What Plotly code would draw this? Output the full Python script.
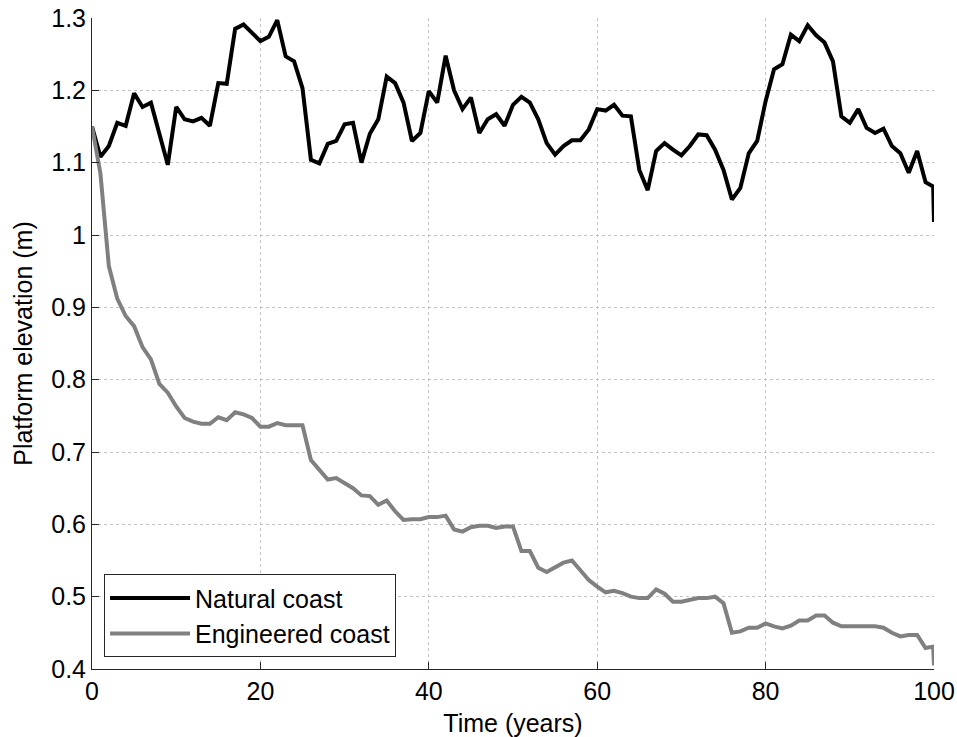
import plotly.graph_objects as go

# Simulated platform elevation over a century, sampled yearly
years = list(range(0, 100)) + [99.9, 100]

natural_coast = [
    1.150, 1.108, 1.123, 1.155, 1.151, 1.196, 1.177, 1.183, 1.140, 1.097,
    1.177, 1.160, 1.157, 1.162, 1.151, 1.210, 1.209, 1.285, 1.291, 1.279,
    1.268, 1.274, 1.297, 1.247, 1.240, 1.203, 1.104, 1.099, 1.126, 1.130,
    1.153, 1.155, 1.100, 1.140, 1.160, 1.219, 1.210, 1.183, 1.130, 1.141,
    1.199, 1.183, 1.248, 1.200, 1.174, 1.190, 1.141, 1.160, 1.167, 1.151,
    1.180, 1.191, 1.183, 1.160, 1.127, 1.111, 1.123, 1.131, 1.131, 1.146,
    1.174, 1.172, 1.180, 1.165, 1.164, 1.090, 1.062, 1.116, 1.127, 1.118,
    1.110, 1.123, 1.139, 1.138, 1.118, 1.090, 1.049, 1.065, 1.113, 1.130,
    1.185, 1.229, 1.236, 1.277, 1.268, 1.290, 1.276, 1.266, 1.240, 1.164,
    1.155, 1.174, 1.148, 1.141, 1.147, 1.123, 1.113, 1.086, 1.116, 1.073,
    1.067, 1.018,
]

engineered_coast = [
    1.150, 1.085, 0.957, 0.912, 0.888, 0.874, 0.845, 0.828, 0.794, 0.782,
    0.763, 0.747, 0.742, 0.739, 0.739, 0.748, 0.744, 0.755, 0.752, 0.747,
    0.735, 0.735, 0.740, 0.737, 0.737, 0.737, 0.689, 0.675, 0.662, 0.664,
    0.657, 0.650, 0.640, 0.639, 0.627, 0.633, 0.618, 0.606, 0.607, 0.607,
    0.610, 0.610, 0.612, 0.593, 0.590, 0.596, 0.598, 0.598, 0.595, 0.597,
    0.597, 0.563, 0.563, 0.540, 0.534, 0.540, 0.547, 0.550, 0.536, 0.523,
    0.514, 0.506, 0.508, 0.505, 0.500, 0.498, 0.498, 0.510, 0.504, 0.493,
    0.493, 0.496, 0.498, 0.498, 0.500, 0.491, 0.450, 0.452, 0.457, 0.457,
    0.463, 0.459, 0.456, 0.460, 0.467, 0.467, 0.474, 0.474, 0.464, 0.459,
    0.459, 0.459, 0.459, 0.459, 0.457, 0.450, 0.445, 0.447, 0.447, 0.429,
    0.431, 0.405,
]

x_ticks = [0, 20, 40, 60, 80, 100]
y_ticks = [0.4, 0.5, 0.6, 0.7, 0.8, 0.9, 1.0, 1.1, 1.2, 1.3]
y_tick_text = ["0.4", "0.5", "0.6", "0.7", "0.8", "0.9", "1", "1.1", "1.2", "1.3"]

FONT = "Liberation Sans, Arial, sans-serif"
FSIZE = 25

fig = go.Figure()
fig.add_trace(go.Scatter(
    x=years, y=natural_coast, mode="lines", name="Natural coast",
    line=dict(color="#000000", width=4),
))
fig.add_trace(go.Scatter(
    x=years, y=engineered_coast, mode="lines", name="Engineered coast",
    line=dict(color="#808080", width=4),
))

axis_common = dict(
    showline=True, linecolor="#262626", linewidth=1,
    ticks="inside", ticklen=7, tickcolor="#262626",
    showgrid=True, gridcolor="#c4c4c4", gridwidth=1, griddash="dot",
    zeroline=False, mirror=False, automargin=False,
    tickfont=dict(family=FONT, size=FSIZE, color="#000000"),
    title_font=dict(family=FONT, size=FSIZE, color="#000000"),
)

fig.update_xaxes(
    range=[0, 100], tickvals=x_ticks, title_text="Time (years)",
    title_standoff=10, **axis_common,
)
fig.update_yaxes(
    range=[0.4, 1.3], tickvals=y_ticks, ticktext=y_tick_text,
    title_text="Platform elevation (m)", title_standoff=11, **axis_common,
)

fig.update_layout(
    width=957, height=737,
    margin=dict(l=92, r=23, t=18, b=68),
    paper_bgcolor="#ffffff", plot_bgcolor="#ffffff",
    font=dict(family=FONT, size=FSIZE, color="#000000"),
    legend=dict(
        x=0.0143, y=0.018, xanchor="left", yanchor="bottom",
        bgcolor="#ffffff", bordercolor="#262626", borderwidth=1,
        font=dict(family=FONT, size=FSIZE, color="#000000"),
        tracegroupgap=0, itemwidth=80,
    ),
    showlegend=True,
)

fig.write_html("out.html")
